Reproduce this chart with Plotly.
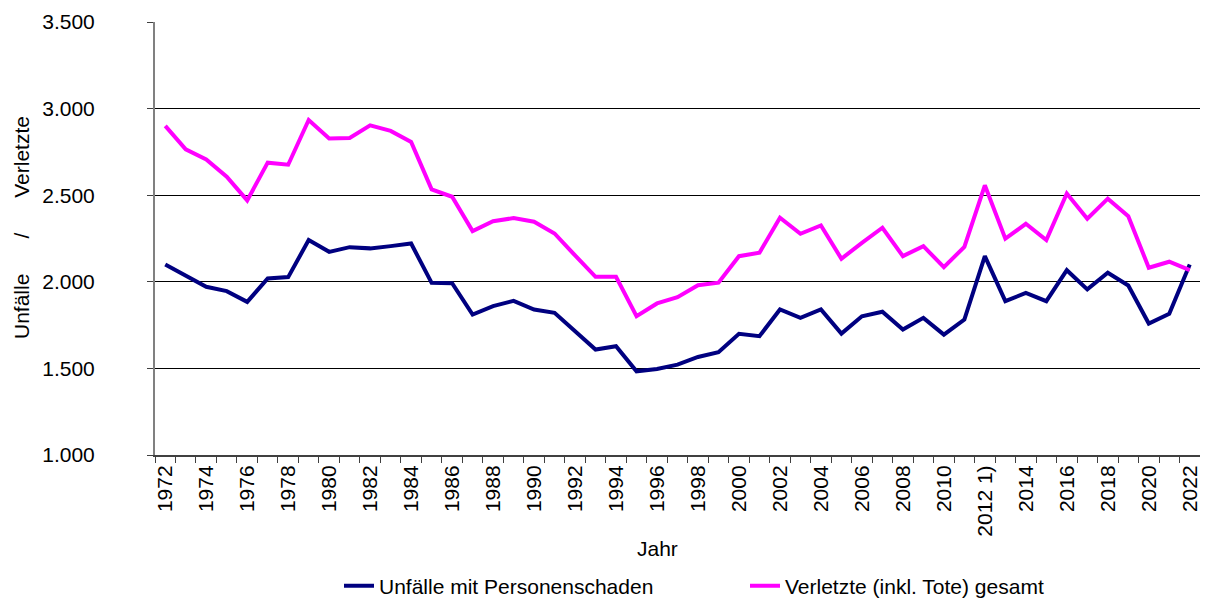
import plotly.graph_objects as go

years = list(range(1972, 2023))
unfaelle = [2100, 2038, 1971, 1946, 1884, 2019, 2027, 2241, 2173, 2200,
            2193, 2206, 2221, 1994, 1992, 1811, 1860, 1890, 1840, 1821,
            1715, 1609, 1628, 1483, 1497, 1522, 1566, 1593, 1700, 1686,
            1840, 1792, 1840, 1701, 1801, 1827, 1724, 1792, 1695, 1782,
            2148, 1888, 1936, 1888, 2067, 1956, 2052, 1979, 1759, 1815,
            2100]
verletzte = [2900, 2765, 2707, 2607, 2470, 2688, 2676, 2934, 2827, 2830,
             2903, 2871, 2807, 2534, 2491, 2293, 2350, 2368, 2347, 2279,
             2152, 2029, 2029, 1801, 1875, 1911, 1980, 1995, 2148, 2168,
             2370, 2277, 2325, 2133, 2225, 2312, 2148, 2206, 2084, 2202,
             2557, 2249, 2335, 2241, 2510, 2364, 2480, 2379, 2081, 2116,
             2067]
label_years = years[::2]
tick_labels = [("2012 1)" if y == 2012 else str(y)) for y in label_years]
y_ticks = [1000, 1500, 2000, 2500, 3000, 3500]

FONT = "Liberation Sans, Arial, sans-serif"
FS = 21

fig = go.Figure()
fig.add_trace(go.Scatter(x=years, y=unfaelle, mode="lines",
                         name="Unfälle mit Personenschaden",
                         line=dict(color="#000080", width=4)))
fig.add_trace(go.Scatter(x=years, y=verletzte, mode="lines",
                         name="Verletzte (inkl. Tote) gesamt",
                         line=dict(color="#FF00FF", width=4)))

# page body adds an 8px offset; figure is sized to compensate
fig.update_layout(
    width=1200, height=598,
    margin=dict(l=147, r=8, t=14, b=151, autoexpand=False),
    paper_bgcolor="white", plot_bgcolor="white",
    separators=",.",
    font=dict(family=FONT, size=FS, color="black"),
    showlegend=True,
    legend=dict(orientation="h", x=(745 - 155) / 1045, xanchor="center",
                y=(455 - 586) / 433, yanchor="middle",
                entrywidth=361, entrywidthmode="pixels",
                font=dict(size=FS), bgcolor="rgba(0,0,0,0)"),
    xaxis=dict(
        range=[years[0] - 0.5, years[-1] + 0.5],
        tickvals=label_years, ticktext=tick_labels, tickangle=-90,
        ticks="", showgrid=False, zeroline=False, automargin=False,
        showline=True, linecolor="#404040", linewidth=2,
        tickfont=dict(size=FS),
        minor=dict(tickvals=[y - 0.5 for y in years] + [years[-1] + 0.5],
                   ticks="outside", ticklen=6, tickcolor="#404040",
                   showgrid=False),
    ),
    yaxis=dict(
        range=[y_ticks[0], y_ticks[-1]], tickvals=y_ticks,
        tickformat=",.0f", automargin=False,
        ticks="outside", ticklen=6, tickcolor="#404040",
        showgrid=True, gridcolor="black", gridwidth=1,
        zeroline=False, showline=True, linecolor="#808080", linewidth=2,
        mirror=True, tickfont=dict(size=FS),
        ticklabelstandoff=48,
    ),
    annotations=[
        dict(text="Unfälle\u00a0\u00a0\u00a0\u00a0\u00a0\u00a0/\u00a0\u00a0\u00a0\u00a0\u00a0\u00a0Verletzte",
             xref="paper", yref="paper", x=(22 - 155) / 1045,
             y=(455 - 228) / 433, xanchor="center", yanchor="middle",
             textangle=-90, showarrow=False, font=dict(size=FS)),
        dict(text="Jahr", xref="paper", yref="paper",
             x=(657 - 155) / 1045, y=(455 - 548) / 433,
             xanchor="center", yanchor="middle", showarrow=False,
             font=dict(size=FS)),
    ],
)

fig.write_html("out.html")
